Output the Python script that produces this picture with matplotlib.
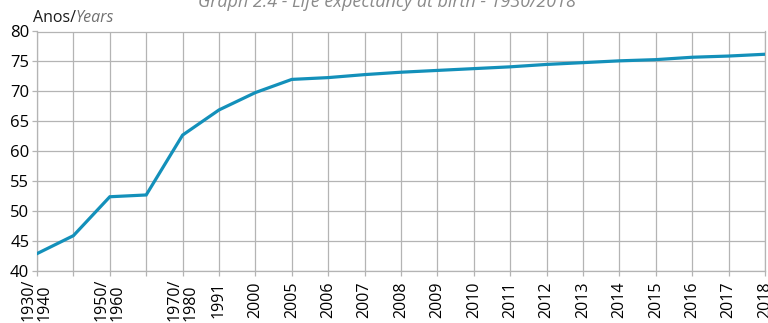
import matplotlib
matplotlib.use("Agg")
import matplotlib.pyplot as plt

# Life expectancy at birth, Brazil (years)
periods = ["1930/\n1940", "", "1950/\n1960", "", "1970/\n1980", "1991", "2000",
           "2005", "2006", "2007", "2008", "2009", "2010", "2011", "2012",
           "2013", "2014", "2015", "2016", "2017", "2018"]
life_exp = [42.9, 45.9, 52.4, 52.7, 62.7, 66.9, 69.8,
            72.0, 72.3, 72.8, 73.2, 73.5, 73.8, 74.1, 74.5,
            74.8, 75.1, 75.3, 75.7, 75.9, 76.2]
yticks = [40, 45, 50, 55, 60, 65, 70, 75, 80]

LINE = "#1390ba"
GRID = "#b4b4b4"
FONT = "Open Sans"

plt.rcParams["font.family"] = [FONT, "DejaVu Sans"]

fig = plt.figure(figsize=(7.68, 3.23), dpi=100)
ax = fig.add_axes([37 / 768, 1 - 271 / 323, 728 / 768, 239.5 / 323])

x = list(range(len(periods)))
ax.plot(x, life_exp, color=LINE, lw=2.3, solid_joinstyle="miter", zorder=3)

ax.set_xlim(0, len(periods) - 1)
ax.set_ylim(40, 80)
ax.set_xticks(x)
ax.set_xticklabels(periods, rotation=90, fontsize=11.5, multialignment="left",
                   linespacing=1.0)
ax.set_yticks(yticks)
ax.set_yticklabels([str(v) for v in yticks], fontsize=12)

ax.grid(True, color=GRID, lw=0.9)
ax.set_axisbelow(True)
for s in ax.spines.values():
    s.set_color(GRID)
    s.set_linewidth(0.9)

ax.tick_params(axis="both", color=GRID, length=3.5, width=0.9)
ax.tick_params(axis="y", pad=2)
ax.tick_params(axis="x", pad=17)
for lbl in ax.get_xticklabels():
    lbl.set_va("center")

# axis unit label, Portuguese / English
anos = fig.text(33 / 768, 1 - 22 / 323, "Anos/", fontsize=11.5, color="#1a1a1a",
                va="baseline")
ax.annotate("Years", xy=(1, 0), xycoords=anos, va="bottom", ha="left",
            fontsize=11.5, color="#707070", style="italic",
            annotation_clip=False)

fig.text(387 / 768, 1 - 7 / 323, "Graph 2.4 - Life expectancy at birth - 1930/2018",
         fontsize=13, color="#8a8a8a", style="italic", ha="center", va="baseline")

fig.savefig("out.png", dpi=100)
